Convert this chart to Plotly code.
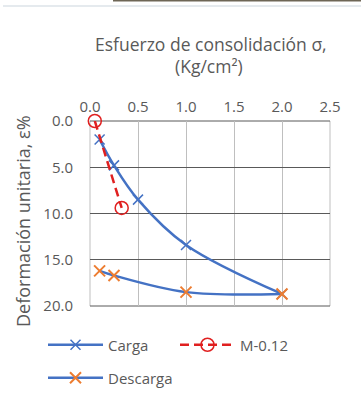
import plotly.graph_objects as go

carga_x = [0.1, 0.25, 0.5, 1.0, 2.0]
carga_y = [2.0, 4.8, 8.5, 13.4, 18.7]
descarga_x = [2.0, 1.0, 0.25, 0.1]
descarga_y = [18.7, 18.5, 16.7, 16.2]
m_x = [0.05, 0.33]
m_y = [0.0, 9.4]
x_ticks = [0.0, 0.5, 1.0, 1.5, 2.0, 2.5]
y_ticks = [0.0, 5.0, 10.0, 15.0, 20.0]

BLUE = "#4472C4"
ORANGE = "#ED7D31"
RED = "#E02020"
TXT = "#595959"
FONT = "Open Sans"
HGRID = "#595959"
VGRID = "#BFBFBF"

fig = go.Figure()
fig.add_trace(go.Scatter(
    x=carga_x, y=carga_y, name="Carga", mode="lines+markers", cliponaxis=False,
    line=dict(color=BLUE, width=2.5, shape="spline"),
    marker=dict(symbol="x-thin", size=10, line=dict(color=BLUE, width=1.5), color=BLUE),
    legend="legend",
))
fig.add_trace(go.Scatter(
    x=m_x, y=m_y, name="M-0.12", mode="lines+markers", cliponaxis=False,
    line=dict(color=RED, width=2.5, dash="9px,5px"),
    marker=dict(symbol="circle-open", size=13, color=RED, line=dict(color=RED, width=1.5)),
    legend="legend",
))
fig.add_trace(go.Scatter(
    x=descarga_x, y=descarga_y, name="Descarga", mode="lines+markers", cliponaxis=False,
    line=dict(color=BLUE, width=2.5, shape="spline"),
    marker=dict(symbol="x-thin", size=11, line=dict(color=ORANGE, width=2), color=ORANGE),
    legend="legend2",
))

L, R, T, B = 90, 31, 121, 99
W, H = 361, 405
ph = H - T - B
pw = W - L - R

def px_x(p):
    return (p - L) / pw

def px_y(p):
    return (H - B - p) / ph

leg_common = dict(
    orientation="h", xanchor="left", yanchor="middle",
    entrywidth=62, entrywidthmode="pixels", font=dict(family=FONT, size=15, color=TXT),
    itemwidth=55, tracegroupgap=0, bgcolor="rgba(0,0,0,0)",
)

fig.update_layout(
    width=W, height=H,
    margin=dict(l=L, r=R, t=T, b=B, pad=0, autoexpand=False),
    paper_bgcolor="white", plot_bgcolor="white",
    font=dict(family=FONT, color=TXT, size=15),
    showlegend=True,
    legend=dict(x=px_x(43), y=px_y(345), **leg_common),
    legend2=dict(x=px_x(43), y=px_y(378), **leg_common),
    xaxis=dict(
        range=[0, 2.5], side="top", tickvals=x_ticks, tickformat=".1f",
        showgrid=True, gridcolor=VGRID, gridwidth=1, zeroline=False,
        ticks="", tickfont=dict(size=15, color=TXT), ticklabelstandoff=5,
    ),
    yaxis=dict(
        range=[20, 0], tickvals=y_ticks, tickformat=".1f",
        showgrid=True, gridcolor=HGRID, gridwidth=1, zeroline=False,
        ticks="", tickfont=dict(size=15, color=TXT), ticklabelstandoff=16,
    ),
    annotations=[
        dict(text="Esfuerzo de consolidación σ,", x=px_x(211), y=px_y(44),
             xref="paper", yref="paper", showarrow=False, font=dict(size=17.5, color=TXT),
             xanchor="center", yanchor="middle"),
        dict(text="(Kg/cm²)", x=px_x(209), y=px_y(66),
             xref="paper", yref="paper", showarrow=False, font=dict(size=17.5, color=TXT),
             xanchor="center", yanchor="middle"),
        dict(text="Deformación unitaria, ε%", x=px_x(23), y=px_y(221), textangle=-90,
             xref="paper", yref="paper", showarrow=False, font=dict(size=18, color=TXT),
             xanchor="center", yanchor="middle"),
    ],
    shapes=[
        dict(type="line", xref="paper", yref="paper", x0=px_x(113), x1=px_x(361),
             y0=px_y(0.5), y1=px_y(0.5), line=dict(color="#6E6656", width=2)),
        dict(type="line", xref="paper", yref="paper", x0=px_x(3), x1=px_x(361),
             y0=px_y(6), y1=px_y(6), line=dict(color="#DDE3E8", width=1.5)),
        dict(type="line", xref="paper", yref="paper", x0=0, x1=0, y0=0, y1=1,
             line=dict(color=VGRID, width=1), layer="below"),
        dict(type="line", xref="paper", yref="paper", x0=1, x1=1, y0=0, y1=1,
             line=dict(color=VGRID, width=1), layer="below"),
        dict(type="line", xref="paper", yref="paper", x0=0, x1=1, y0=0, y1=0,
             line=dict(color=HGRID, width=1), layer="below"),
        dict(type="line", xref="paper", yref="paper", x0=0, x1=1, y0=1, y1=1,
             line=dict(color=HGRID, width=1), layer="below"),
    ],
)

fig.write_html("out.html", config={"displayModeBar": False},
               post_script="document.body.style.margin='0';")
